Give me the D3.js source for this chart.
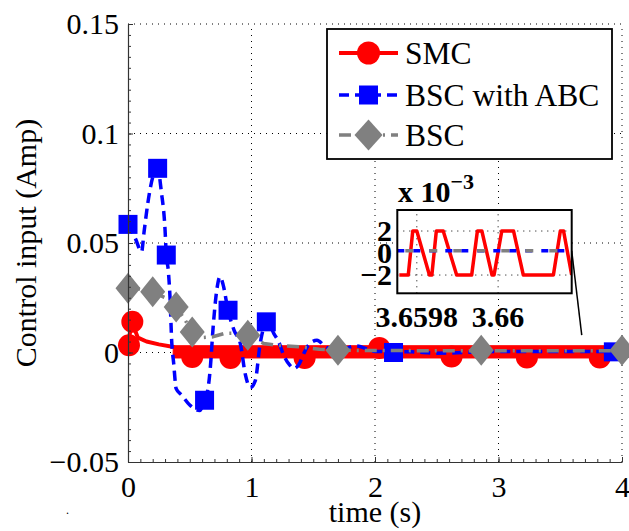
<!DOCTYPE html>
<html><head><meta charset="utf-8">
<script src="https://cdn.jsdelivr.net/npm/d3@7"></script>
<style>
body{margin:0;background:#fff;}
svg text{font-family:"Liberation Serif","Times New Roman",serif;fill:#000;}
</style>
</head><body>
<svg id="c" width="629" height="531"></svg>
<script>
// ---------- data ----------
const xTicks = [0, 1, 2, 3, 4];
const xTickLabels = ["0", "1", "2", "3", "4"];
const yTicks = [-0.05, 0, 0.05, 0.1, 0.15];
const yTickLabels = ["\u22120.05", "0", "0.05", "0.1", "0.15"];
const xGrid = [1, 2, 3, 4];
const yGrid = [0, 0.05, 0.1, 0.15];
const xMinor = d3.range(0, 41).map(i => i / 10);
const yMinor = d3.range(0, 41).map(i => -0.05 + i * 0.005);

const seriesNames = ["SMC", "BSC with ABC", "BSC"];
const seriesColors = ["#ff0000", "#0000ff", "#808080"];

// SMC transient (t, value)
const smcLine = [[0, 0.0033], [0.03, 0.0140], [0.08, 0.0068], [0.15, 0.0050], [0.25, 0.0037], [0.37, 0.0025]];
// SMC chattering envelope after transient: t, low, high
const smcBandT = [0.366, 4.0];
const smcBandLo = [-0.0025, -0.0025];
const smcBandHi = [0.0031, 0.0031];
const smcMarkers = [[0.008, 0.0033], [0.035, 0.0140], [0.52, -0.0020], [0.83, -0.0025], [1.43, -0.0025],
  [2.035, 0.0021], [2.62, -0.0018], [3.23, -0.0023], [3.82, -0.0023]];

// BSC with ABC
const abcLine = [[0, 0.0585], [0.06, 0.052], [0.11, 0.046], [0.13, 0.055], [0.16, 0.068], [0.2, 0.080], [0.24, 0.0841],
  [0.27, 0.0734], [0.30, 0.056], [0.31, 0.0445], [0.326, 0.0376], [0.34, 0.0254], [0.354, 0.005], [0.37, -0.005],
  [0.39, -0.0165], [0.435, -0.0195], [0.5, -0.024], [0.58, -0.0265], [0.62, -0.0218], [0.65, -0.0157],
  [0.665, -0.008], [0.69, 0.012], [0.72, 0.029], [0.745, 0.0346], [0.77, 0.031], [0.81, 0.0193], [0.86, 0.010],
  [0.91, 0.004], [0.95, -0.010], [0.99, -0.016], [1.03, -0.013], [1.07, 0.004], [1.1, 0.0117], [1.13, 0.0145],
  [1.18, 0.0087], [1.22, 0.0049], [1.26, -0.0012], [1.31, -0.0058], [1.34, -0.0073], [1.38, -0.0058],
  [1.43, 0.0003], [1.46, 0.0033], [1.53, 0.0056], [1.6, 0.0026], [1.7, 0.001], [1.85, 0.003], [2.0, 0.0005],
  [2.3, 0.0003], [2.5, -0.0003], [3.0, 0.0005], [4.0, 0.0005]];
const abcMarkers = [[0, 0.0585], [0.24, 0.0841], [0.31, 0.0445], [0.62, -0.0218], [0.81, 0.0193], [1.12, 0.0140],
  [2.15, 0.0], [3.93, 0.0003]];

// BSC
const bscLine = [[0, 0.0293], [0.1, 0.0290], [0.2, 0.0277], [0.3, 0.0250], [0.39, 0.0208], [0.46, 0.0150],
  [0.52, 0.0094], [0.6, 0.0068], [0.68, 0.0071], [0.78, 0.0087], [0.87, 0.0088], [0.97, 0.0079], [1.1, 0.0041],
  [1.2, 0.0033], [1.39, 0.0026], [1.55, 0.0015], [1.7, 0.0010], [2.5, 0.0008], [4.0, 0.0008]];
const bscMarkers = [[0, 0.0293], [0.2, 0.0277], [0.39, 0.0208], [0.52, 0.0094], [0.97, 0.0079], [1.7, 0.0010],
  [2.86, 0.0010], [4.0, 0.0010]];

// inset (zoom near t = 3.66)
const insetXDomain = [3.659752, 3.660181];
const insetYDomain = [-3.66e-3, 3.91e-3];
const insetXTicks = [3.6598, 3.66];
const insetXTickLabels = ["3.6598", "3.66"];
const insetYTicks = [-0.002, 0, 0.002];
const insetYTickLabels = ["\u22122", "0", "2"];
const insetSmcT = [3.659757, 3.659779, 3.659790, 3.659800, 3.659831, 3.659837, 3.659848, 3.659865, 3.659898,
  3.659935, 3.659949, 3.659960, 3.659985, 3.659990, 3.660009, 3.660038, 3.660062, 3.660136, 3.660153, 3.660161, 3.660181];
const insetSmcV = [-2, -2, 2, 2, -2, -2, 2, 2, -2, -2, 2, 2, -2, -2, 2, 2, -2, -2, 2, 2, -2].map(v => v * 1e-3);
const insetBscT = [3.659752, 3.660181];
const insetBscV = [0.0002, 0.0002];
// annotation line: from inset point to main-plot point
const annotInset = [3.660181, 0.0002];
const annotMain = [3.674, 0.0079];

// ---------- drawing ----------
const svg = d3.select("#c");
const FONT = 30;
const x = d3.scaleLinear().domain([0, 4]).range([128, 622]);
const y = d3.scaleLinear().domain([-0.05, 0.15]).range([462, 24]);

// grid
const grid = svg.append("g").attr("stroke", "#000").attr("stroke-width", 1).attr("stroke-dasharray", "1,5");
grid.selectAll(".gx").data(xGrid).join("line")
  .attr("x1", d => x(d)).attr("x2", d => x(d)).attr("y1", y(-0.05)).attr("y2", y(0.15));
grid.selectAll(".gy").data(yGrid).join("line")
  .attr("y1", d => y(d)).attr("y2", d => y(d)).attr("x1", x(0)).attr("x2", x(4));

const line = d3.line().x(d => x(d[0])).y(d => y(d[1]));
const diamond = (w, h) => `M0,${-h / 2}L${w / 2},0L0,${h / 2}L${-w / 2},0Z`;

// SMC
const gS = svg.append("g");
gS.append("path").datum(smcLine).attr("d", line).attr("fill", "none")
  .attr("stroke", seriesColors[0]).attr("stroke-width", 4).attr("stroke-linejoin", "round").attr("stroke-linecap", "round");
const band = smcBandT.map((t, i) => [t, smcBandLo[i], smcBandHi[i]]);
gS.append("path").datum(band)
  .attr("d", d3.area().x(d => x(d[0])).y0(d => y(d[1])).y1(d => y(d[2])))
  .attr("fill", seriesColors[0]).attr("stroke", seriesColors[0]).attr("stroke-width", 1);
gS.selectAll("circle").data(smcMarkers).join("circle")
  .attr("cx", d => x(d[0])).attr("cy", d => y(d[1])).attr("r", 11).attr("fill", seriesColors[0]);

// BSC with ABC
const gA = svg.append("g");
gA.append("path").datum(abcLine).attr("d", d3.line().x(d => x(d[0])).y(d => y(d[1])).curve(d3.curveMonotoneX))
  .attr("fill", "none")
  .attr("stroke", seriesColors[1]).attr("stroke-width", 3.5).attr("stroke-dasharray", "10,6");
gA.selectAll("rect").data(abcMarkers).join("rect")
  .attr("x", d => x(d[0]) - 9.5).attr("y", d => y(d[1]) - 9.5).attr("width", 19).attr("height", 19)
  .attr("fill", seriesColors[1]);

// BSC
const gB = svg.append("g");
gB.append("path").datum(bscLine).attr("d", line).attr("fill", "none")
  .attr("stroke", seriesColors[2]).attr("stroke-width", 3.5).attr("stroke-dasharray", "12,6,2,6");
gB.selectAll("path.m").data(bscMarkers).join("path").attr("class", "m")
  .attr("d", diamond(25, 31)).attr("transform", d => `translate(${x(d[0])},${y(d[1])})`)
  .attr("fill", seriesColors[2]);

// axes
const yAxis = d3.axisLeft(y).tickValues(yTicks).tickFormat((d, i) => yTickLabels[i])
  .tickSizeInner(-5).tickSizeOuter(0).tickPadding(9);
const gy = svg.append("g").attr("transform", `translate(${x(0)},0)`).call(yAxis);
const yMinorAxis = d3.axisLeft(y).tickValues(yMinor).tickFormat(() => "").tickSizeInner(-3).tickSizeOuter(0);
const gym = svg.append("g").attr("transform", `translate(${x(0)},0)`).call(yMinorAxis);
const xAxis = d3.axisBottom(x).tickValues(xTicks).tickFormat((d, i) => xTickLabels[i])
  .tickSizeInner(-5).tickSizeOuter(0).tickPadding(14);
const gx = svg.append("g").attr("transform", `translate(0,${y(-0.05)})`).call(xAxis);
const xMinorAxis = d3.axisBottom(x).tickValues(xMinor).tickFormat(() => "").tickSizeInner(-3).tickSizeOuter(0);
const gxm = svg.append("g").attr("transform", `translate(0,${y(-0.05)})`).call(xMinorAxis);
[gy, gx, gym, gxm].forEach(g => {
  g.attr("font-size", FONT).attr("font-family", "Liberation Serif, Times New Roman, serif");
  g.selectAll("line").attr("stroke", "#333");
  g.select(".domain").attr("stroke", "#333").attr("stroke-width", 1.2);
  g.selectAll("text").attr("fill", "#000");
});
gym.select(".domain").remove();
gxm.select(".domain").remove();

svg.append("text").attr("x", (x(0) + x(4)) / 2).attr("y", 522).attr("text-anchor", "middle")
  .attr("font-size", FONT).text("time (s)");
svg.append("text").attr("transform", `translate(36,${(y(-0.05) + y(0.15)) / 2}) rotate(-90)`)
  .attr("text-anchor", "middle").attr("font-size", FONT).text("Control input (Amp)");
svg.append("text").attr("x", 66).attr("y", 514).attr("font-size", 12).text(".");

// legend
const lg = svg.append("g").attr("transform", "translate(327,29)");
lg.append("rect").attr("width", 285).attr("height", 130).attr("fill", "#fff").attr("stroke", "#000").attr("stroke-width", 1.8);
const rows = [24, 66, 106];
const dashes = [null, "10,6", "12,6,2,6"];
seriesNames.forEach((name, i) => {
  const r = lg.append("g").attr("transform", `translate(0,${rows[i]})`);
  r.append("line").attr("x1", 12).attr("x2", 71).attr("y1", 0).attr("y2", 0)
    .attr("stroke", seriesColors[i]).attr("stroke-width", i === 0 ? 4 : 3.5)
    .attr("stroke-dasharray", dashes[i]);
  if (i === 0) r.append("circle").attr("cx", 41.5).attr("r", 11.5).attr("fill", seriesColors[0]);
  if (i === 1) r.append("rect").attr("x", 32).attr("y", -9.5).attr("width", 19).attr("height", 19).attr("fill", seriesColors[1]);
  if (i === 2) r.append("path").attr("d", diamond(28, 31)).attr("transform", "translate(41.5,0)").attr("fill", seriesColors[2]);
  r.append("text").attr("x", 78).attr("y", 11).attr("font-size", 31.5).text(name);
});

// inset
const ix = d3.scaleLinear().domain(insetXDomain).range([397.3, 571.7]);
const iy = d3.scaleLinear().domain(insetYDomain).range([293.3, 210]);
const ig = svg.append("g");
ig.append("rect").attr("x", ix.range()[0]).attr("y", iy.range()[1])
  .attr("width", ix.range()[1] - ix.range()[0]).attr("height", iy.range()[0] - iy.range()[1]).attr("fill", "#fff");
ig.append("clipPath").attr("id", "iclip").append("rect").attr("x", ix.range()[0]).attr("y", iy.range()[1])
  .attr("width", ix.range()[1] - ix.range()[0]).attr("height", iy.range()[0] - iy.range()[1]);
const igr = ig.append("g").attr("stroke", "#000").attr("stroke-width", 1).attr("stroke-dasharray", "1,5");
igr.selectAll(".a").data(insetXTicks).join("line")
  .attr("x1", d => ix(d)).attr("x2", d => ix(d)).attr("y1", iy.range()[0]).attr("y2", iy.range()[1]);
igr.selectAll(".b").data([insetYTicks[0], insetYTicks[2]]).join("line")
  .attr("y1", d => iy(d)).attr("y2", d => iy(d)).attr("x1", ix.range()[0]).attr("x2", ix.range()[1]);
const iline = d3.line().x(d => ix(d[0])).y(d => iy(d[1]));
const idata = ig.append("g").attr("clip-path", "url(#iclip)");
idata.append("path").datum(insetSmcT.map((t, i) => [t, insetSmcV[i]])).attr("d", iline)
  .attr("fill", "none").attr("stroke", seriesColors[0]).attr("stroke-width", 3.5).attr("stroke-linejoin", "round");
const ib = insetBscT.map((t, i) => [t, insetBscV[i]]);
idata.append("path").datum(ib).attr("d", iline).attr("fill", "none")
  .attr("stroke", seriesColors[1]).attr("stroke-width", 3.5).attr("stroke-dasharray", "7,9");
idata.append("path").datum(ib).attr("d", iline).attr("fill", "none")
  .attr("stroke", seriesColors[2]).attr("stroke-width", 3.5).attr("stroke-dasharray", "0,8,8,8");
ig.append("rect").attr("x", ix.range()[0]).attr("y", iy.range()[1])
  .attr("width", ix.range()[1] - ix.range()[0]).attr("height", iy.range()[0] - iy.range()[1])
  .attr("fill", "none").attr("stroke", "#000").attr("stroke-width", 2);
ig.selectAll(".xt").data(insetXTicks).join("text").attr("class", "xt")
  .attr("x", d => ix(d)).attr("y", 326.7).attr("text-anchor", "middle")
  .attr("font-size", FONT).attr("font-weight", "bold").text((d, i) => insetXTickLabels[i]);
ig.selectAll(".yt").data(insetYTicks).join("text").attr("class", "yt")
  .attr("x", 392).attr("y", d => iy(d)).attr("dy", "0.34em").attr("text-anchor", "end")
  .attr("font-size", FONT).attr("font-weight", "bold").text((d, i) => insetYTickLabels[i]);
const mult = ig.append("text").attr("x", 398).attr("y", 201.7).attr("font-size", FONT).attr("font-weight", "bold");
mult.append("tspan").text("x 10");
mult.append("tspan").attr("dy", -13).attr("font-size", 22).text("\u22123");

// annotation connector
svg.append("line").attr("x1", ix(annotInset[0])).attr("y1", iy(annotInset[1]))
  .attr("x2", x(annotMain[0])).attr("y2", y(annotMain[1])).attr("stroke", "#000").attr("stroke-width", 1.5);
</script>
</body></html>
